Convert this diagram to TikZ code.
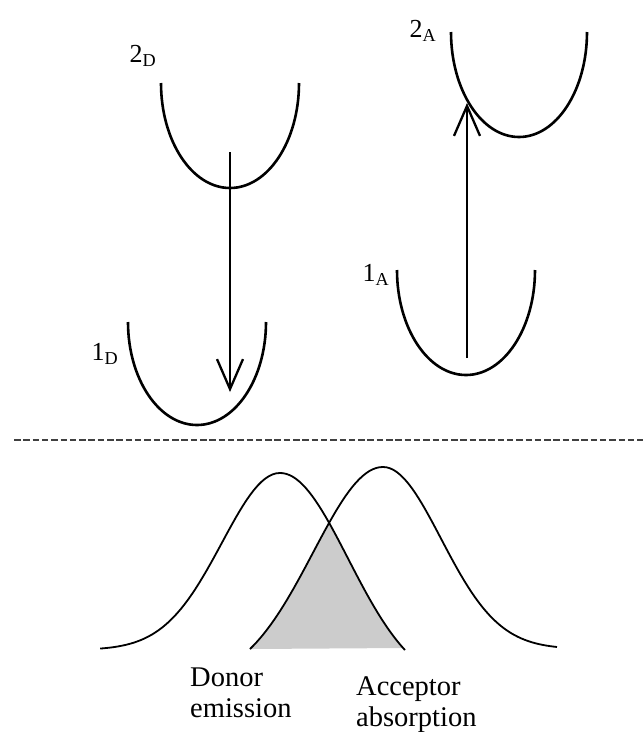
\documentclass[tikz,border=0pt]{standalone}
\usepackage{fontspec}
\setmainfont{Liberation Serif}
\usetikzlibrary{arrows.meta}
\tikzset{
  >=latex,  % frecce di default
  % pozzi di potenziale
  well/.style={line width=2.6pt},
  % transizioni verticali
  trans/.style={line width=2.3pt,-{Straight Barb[length=30pt,width=26pt]}},
  % spettri
  spectrum/.style={line width=1.8pt},
  overlap/.style={fill=gray!40},
  divider/.style={line width=1.8pt,dash pattern=on 6.5pt off 2.8pt,black!75}
}
% bande: lato esterno gaussiano, lato interno troncato
\def\donorband{plot[domain=-3.1:0, samples=50] ({280+58*\x}, {650-177*exp(-\x*\x/2)})
  -- plot[domain=0:1.838, samples=40] ({280+68*\x}, {650-177*(exp(-\x*\x/2)-0.185)/0.815})}
\def\acceptorband{plot[domain=-1.9:0, samples=40] ({383+70*\x}, {649-182*(exp(-\x*\x/2)-0.1645)/0.8355})
  -- plot[domain=0:3.0, samples=50] ({383+58*\x}, {649-182*exp(-\x*\x/2)})}

\begin{document}
\begin{tikzpicture}[x=1pt, y=-1pt,
    lbl/.style={font=\fontsize{26}{28}\selectfont, inner sep=0pt},
    txt/.style={font=\fontsize{28.5}{31}\selectfont, align=left, inner sep=0pt, anchor=north west}]
    \useasboundingbox (0,0) rectangle (643,732);
    \draw[well] (161,83) arc[start angle=180, end angle=0, x radius=69, y radius=105];
    \draw[well] (128,322) arc[start angle=180, end angle=0, x radius=69, y radius=103];
    \draw[well] (451,32) arc[start angle=180, end angle=0, x radius=68, y radius=105];
    \draw[well] (397,270) arc[start angle=180, end angle=0, x radius=69, y radius=105];
    \node[lbl] (d2) at (143,56) {2\textsubscript{D}};
    \node[lbl] (d1) at (105,354) {1\textsubscript{D}};
    \node[lbl] (a2) at (423,31) {2\textsubscript{A}};
    \node[lbl] (a1) at (376,275) {1\textsubscript{A}};
    \coordinate (dtop) at (230,152);
    \coordinate (dbot) at (230,392);
    \coordinate (abot) at (467,358);
    \coordinate (atop) at (467,103);
    \draw[trans] (dtop) -- (dbot);
    \draw[trans] (abot) -- (atop);
    \coordinate (sl) at (14,440);
    \coordinate (sr) at (643,440);
    \draw[divider] (sl) -- (sr);
    \begin{scope}
      \clip \donorband -- cycle;
      \fill[overlap] \acceptorband -- cycle;
    \end{scope}
    \draw[spectrum] \donorband;
    \draw[spectrum] \acceptorband;
    \node[txt] (don) at (190,668) {Donor\\emission};
    \node[txt] (acc) at (356,676) {Acceptor\\absorption};
\end{tikzpicture}
\end{document}
